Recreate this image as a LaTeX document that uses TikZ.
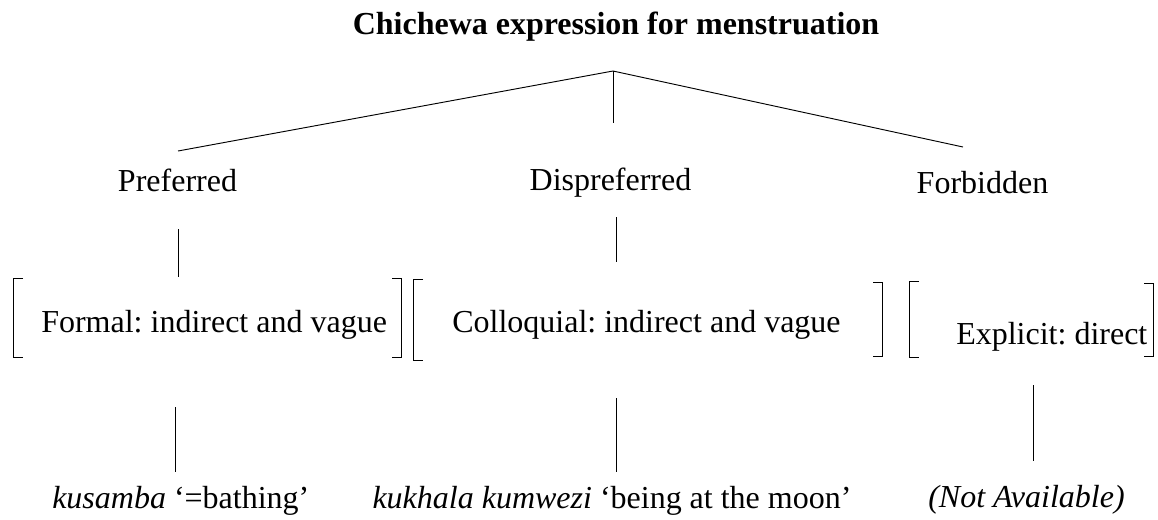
\documentclass[tikz,border=0pt]{standalone}
\usepackage{fontspec}
\setmainfont{Liberation Serif}
\frenchspacing
\begin{document}
\begin{tikzpicture}[x=0.75pt,y=-0.75pt,
  lbl/.style={inner sep=0pt,anchor=base,font=\fontsize{24}{28}\selectfont},
  lblw/.style={inner sep=0pt,anchor=base west,font=\fontsize{24}{28}\selectfont},
  ttl/.style={inner sep=0pt,anchor=base,font=\fontsize{24}{28}\selectfont\bfseries},
  branch/.style={line width=0.7pt,black},
  brk/.style={line width=0.7pt,black}]
\useasboundingbox (0,0) rectangle (1158,519);

% texts
\node[ttl] (title) at (616,34) {Chichewa expression for menstruation};
\node[lbl] (pref) at (177.5,191) {Preferred};
\node[lbl] (dispref) at (610.5,190) {Dispreferred};
\node[lbl] (forb) at (982.5,193) {Forbidden};
\node[lblw] (formal) at (41,332) {Formal: indirect and vague};
\node[lblw] (colloq) at (452,332) {Colloquial: indirect and vague};
\node[lblw] (explicit) at (956,344) {Explicit: direct};
\node[lblw] (kusamba) at (52,508) {\textit{kusamba} ‘=bathing’};
\node[lbl] (kukhala) at (612,508) {\textit{kukhala kumwezi} ‘being at the moon’};
\node[lbl] (na) at (1026.5,507) {\textit{(Not Available)}};

% connector end points
\coordinate (apex) at (613,71);
\coordinate (prefTop) at (178,151);
\coordinate (dispTop) at (613,123);
\coordinate (forbTop) at (963,147);
\coordinate (p1) at (178,229); \coordinate (p2) at (178,277);
\coordinate (d1) at (616,217); \coordinate (d2) at (616,262);
\coordinate (k1) at (175,407); \coordinate (k2) at (175,472);
\coordinate (m1) at (616,398); \coordinate (m2) at (616,472);
\coordinate (n1) at (1033,385); \coordinate (n2) at (1033,461);

\draw[branch] (apex) -- (prefTop);
\draw[branch] (apex) -- (dispTop);
\draw[branch] (apex) -- (forbTop);
\draw[branch] (p1) -- (p2);
\draw[branch] (d1) -- (d2);
\draw[branch] (k1) -- (k2);
\draw[branch] (m1) -- (m2);
\draw[branch] (n1) -- (n2);

% brackets
\draw[brk] (23,278) -- (13,278) -- (13,357) -- (23,357);
\draw[brk] (392,278) -- (401,278) -- (401,357) -- (392,357);
\draw[brk] (423,279) -- (413,279) -- (413,360) -- (423,360);
\draw[brk] (873,282) -- (882,282) -- (882,356) -- (873,356);
\draw[brk] (919,281) -- (909,281) -- (909,357) -- (919,357);
\draw[brk] (1144,283) -- (1153,283) -- (1153,356) -- (1144,356);
\end{tikzpicture}
\end{document}
